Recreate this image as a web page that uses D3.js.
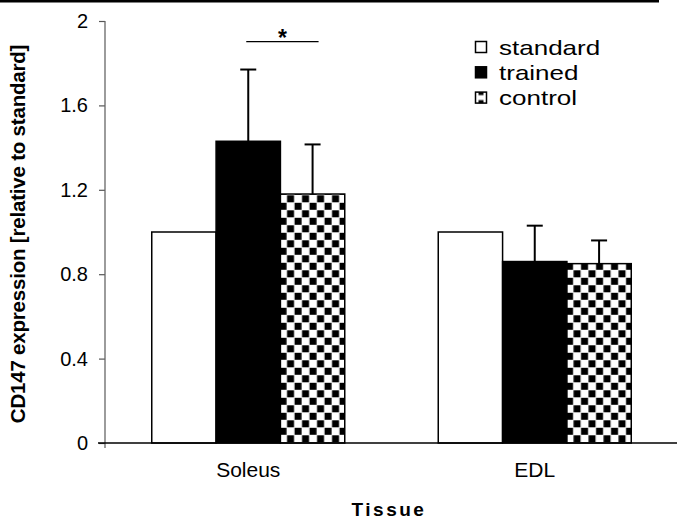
<!DOCTYPE html>
<html>
<head>
<meta charset="utf-8">
<script src="https://cdn.jsdelivr.net/npm/d3@7"></script>
<style>
  body { margin: 0; background: #fff; }
  text { font-family: Arial, "Liberation Sans", sans-serif; fill: #000; }
</style>
</head>
<body>
<div id="chart"></div>
<script>
// data
const tissues = ["Soleus", "EDL"];
const groups = ["standard", "trained", "control"];
const standardMean = [1.0, 1.0];
const trainedMean = [1.43, 0.86];
const controlMean = [1.18, 0.85];
const trainedErr = [0.34, 0.17];
const controlErr = [0.235, 0.11];
const yTicks = [0, 0.4, 0.8, 1.2, 1.6, 2];

const rows = tissues.map((t, i) => ({
    tissue: t,
    values: [
        {group: "standard", mean: standardMean[i], err: null},
        {group: "trained", mean: trainedMean[i], err: trainedErr[i]},
        {group: "control", mean: controlMean[i], err: controlErr[i]}
    ]
}));

const width = 677, height = 519;
const svg = d3.select("#chart").append("svg")
    .attr("width", width)
    .attr("height", height);

// checker pattern for control
const defs = svg.append("defs");
const pat = defs.append("pattern")
    .attr("id", "checker")
    .attr("patternUnits", "userSpaceOnUse")
    .attr("width", 15).attr("height", 15);
pat.append("rect").attr("width", 15).attr("height", 15).attr("fill", "#fff");
pat.append("rect").attr("x", 0.3).attr("y", 0.3).attr("width", 7).attr("height", 7).attr("fill", "#000");
pat.append("rect").attr("x", 7.8).attr("y", 7.8).attr("width", 7).attr("height", 7).attr("fill", "#000");

const fills = {standard: "#fff", trained: "#000", control: "url(#checker)"};

// top rule
svg.append("line")
    .attr("x1", 0).attr("x2", 659)
    .attr("y1", 1.3).attr("y2", 1.3)
    .attr("stroke", "#000").attr("stroke-width", 2.6);

const x0 = d3.scaleBand().domain(tissues).range([105, 678]).padding(0);
const groupWidth = 193;
const x1 = d3.scaleBand().domain(groups).range([0, groupWidth]);
const y = d3.scaleLinear().domain([0, 2]).range([443, 21]);

const gx = t => x0(t) + (x0.bandwidth() - groupWidth) / 2;

// y axis
const yAxis = d3.axisLeft(y).tickValues(yTicks).tickFormat(d3.format("")).tickSize(6).tickPadding(11);
const ya = svg.append("g").attr("transform", "translate(105,0)").call(yAxis);
ya.select(".domain").remove();
ya.selectAll(".tick line").attr("stroke", "#555").attr("stroke-width", 1.2);
ya.selectAll(".tick text").style("font-size", "20px").attr("font-family", "Arial, 'Liberation Sans', sans-serif");
ya.append("line").attr("x1", 0).attr("x2", 0).attr("y1", y(2)).attr("y2", 448)
    .attr("stroke", "#666").attr("stroke-width", 1.3);

// bars
const gBars = svg.selectAll(".grp").data(rows).join("g")
    .attr("class", "grp")
    .attr("transform", d => `translate(${gx(d.tissue)},0)`);

gBars.selectAll("rect").data(d => d.values).join("rect")
    .attr("x", d => x1(d.group))
    .attr("y", d => y(d.mean))
    .attr("width", x1.bandwidth())
    .attr("height", d => y(0) - y(d.mean))
    .attr("fill", d => fills[d.group])
    .attr("stroke", "#000")
    .attr("stroke-width", 1.5);

// error bars
const eb = gBars.selectAll(".err").data(d => d.values.filter(v => v.err != null)).join("g").attr("class", "err");
eb.append("line")
    .attr("x1", d => x1(d.group) + x1.bandwidth() / 2)
    .attr("x2", d => x1(d.group) + x1.bandwidth() / 2)
    .attr("y1", d => y(d.mean))
    .attr("y2", d => y(d.mean + d.err))
    .attr("stroke", "#000").attr("stroke-width", 2);
eb.append("line")
    .attr("x1", d => x1(d.group) + x1.bandwidth() / 2 - 8)
    .attr("x2", d => x1(d.group) + x1.bandwidth() / 2 + 8)
    .attr("y1", d => y(d.mean + d.err))
    .attr("y2", d => y(d.mean + d.err))
    .attr("stroke", "#000").attr("stroke-width", 2);

// x axis
const xAxis = d3.axisBottom(x0).tickSize(0).tickPadding(19);
const xa = svg.append("g").attr("transform", "translate(0,443)").call(xAxis);
xa.select(".domain").remove();
xa.selectAll(".tick text").style("font-size", "21px").attr("font-family", "Arial, 'Liberation Sans', sans-serif");
svg.append("line").attr("x1", 98).attr("x2", 677).attr("y1", 443).attr("y2", 443)
    .attr("stroke", "#000").attr("stroke-width", 1.5);

// significance marker
const sx1 = gx("Soleus") + x1("trained") + x1.bandwidth() / 2 - 2;
const sx2 = gx("Soleus") + x1("control") + x1.bandwidth() / 2 + 6;
svg.append("line").attr("x1", sx1).attr("x2", sx2).attr("y1", 41.7).attr("y2", 41.7)
    .attr("stroke", "#000").attr("stroke-width", 1.3);
svg.append("text").attr("x", (sx1 + sx2) / 2).attr("y", 46)
    .attr("text-anchor", "middle").style("font-size", "23px").style("font-weight", "bold")
    .text("*");

// legend
const lg = svg.append("g").attr("transform", "translate(475,0)");
groups.forEach((g, i) => {
    const base = 54.5 + i * 25.3;
    lg.append("rect").attr("x", 0.5).attr("y", base - 13).attr("width", 11).attr("height", 11)
        .attr("fill", fills[g] === "url(#checker)" ? "url(#checkerSmall)" : fills[g])
        .attr("stroke", "#000").attr("stroke-width", 1.5);
    lg.append("text").attr("transform", `translate(24,${base}) scale(1.3,1)`)
        .style("font-size", "20px").text(g);
});
// small checker for legend key
const ps = defs.append("pattern").attr("id", "checkerSmall")
    .attr("patternUnits", "userSpaceOnUse").attr("x", 476).attr("y", 92.6)
    .attr("width", 10).attr("height", 10);
ps.append("rect").attr("width", 10).attr("height", 10).attr("fill", "#000");
ps.append("rect").attr("x", 2.5).attr("y", 0).attr("width", 5).attr("height", 10).attr("fill", "#fff");
ps.append("rect").attr("x", 0).attr("y", 2.5).attr("width", 10).attr("height", 5).attr("fill", "#fff");

// axis titles
svg.append("text").attr("x", 389).attr("y", 516)
    .attr("text-anchor", "middle").style("font-size", "19px").style("font-weight", "bold")
    .style("letter-spacing", "2.5px").text("Tissue");
svg.append("text").attr("transform", "translate(25,234) rotate(-90)")
    .attr("text-anchor", "middle").style("font-size", "20.5px").style("font-weight", "bold")
    .style("letter-spacing", "-0.2px")
    .text("CD147 expression [relative to standard]");
</script>
</body>
</html>
